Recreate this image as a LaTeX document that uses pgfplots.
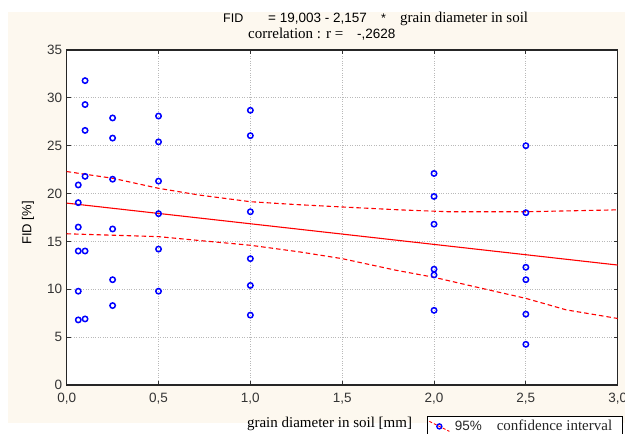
\documentclass[border=0pt]{standalone}
\usepackage{fontspec}
\setmainfont{Liberation Sans}
\newfontfamily\serif{Liberation Serif}
\usepackage{pgfplots}
\pgfplotsset{compat=1.18}
\definecolor{cream}{RGB}{253,248,239}
\definecolor{gridgray}{RGB}{185,185,185}

\begin{document}
\begin{tikzpicture}
% page and panel background
\fill[white] (0pt,0pt) rectangle (625pt,434pt);
\fill[cream] (8pt,11pt) rectangle (625pt,422pt);
\begin{axis}[
    at={(66.7pt,49pt)}, anchor=south west,
    scale only axis, width=551pt, height=335pt,
    xmin=0, xmax=3, ymin=0, ymax=35,
    xtick={0,0.5,...,3}, ytick={0,5,...,35},
    axis background/.style={fill=white},
    axis line style={line width=1.1pt, black!85},
    tick align=inside, major tick length=4pt,
    tick style={black!80, line width=0.9pt},
    grid=major,
    grid style={gridgray, dotted, line width=0.9pt},
    /pgf/number format/assume math mode=true,
    tick label style={font=\fontsize{13.5}{15}\selectfont, text=black!80},
    xticklabel style={yshift=-5pt, /pgf/number format/.cd, fixed, fixed zerofill, precision=1, use comma},
    yticklabel style={xshift=-1pt},
    xlabel={grain diameter in soil [mm]},
    xlabel style={font=\serif\fontsize{15}{17}\selectfont, at={(axis description cs:0.477,-0.1254)}, anchor=base, inner sep=0pt},
    ylabel={FID [\%]},
    ylabel style={font=\fontsize{13}{15}\selectfont, at={(axis description cs:-0.0702,0.4836)}, anchor=center, inner sep=0pt},
    legend style={at={(axis description cs:0.653,-0.0925)}, anchor=north west,
        draw=black, line width=0.8pt, fill=white, inner sep=2pt,
        font=\fontsize{13.5}{15}\selectfont, text=black!85},
    legend cell align=left,
]
% observations: FID [%] against grain diameter [mm]
\addplot[only marks, mark=o, mark size=2.7pt, blue, mark options={line width=1.5pt}, forget plot] coordinates {
  (0.063,20.9) (0.063,19.05) (0.063,16.5) (0.063,14.0) (0.063,9.8) (0.063,6.8)
  (0.1,31.8) (0.1,29.3) (0.1,26.6) (0.1,21.8) (0.1,14.0) (0.1,6.9)
  (0.25,27.9) (0.25,25.8) (0.25,21.5) (0.25,16.3) (0.25,11.0) (0.25,8.3)
  (0.5,28.1) (0.5,25.4) (0.5,21.3) (0.5,17.9) (0.5,14.2) (0.5,9.8)
  (1.0,28.7) (1.0,26.05) (1.0,18.1) (1.0,13.2) (1.0,10.4) (1.0,7.3)
  (2.0,22.1) (2.0,19.7) (2.0,16.8) (2.0,12.1) (2.0,11.5) (2.0,7.8)
  (2.5,25.0) (2.5,18.0) (2.5,12.3) (2.5,11.0) (2.5,7.4) (2.5,4.25)
};
% fitted line
\addplot[red, line width=1.1pt, forget plot] coordinates {(0,19.003) (3,12.532)};
% 95% confidence band
\addplot[red, dash pattern=on 4.5pt off 3pt, line width=1.1pt, forget plot] coordinates {
  (0,22.3) (0.25,21.6) (0.5,20.55) (0.72,19.85) (1.0,19.15) (1.25,18.85)
  (1.5,18.6) (1.81,18.3) (2.08,18.1) (2.5,18.1) (3.0,18.3)
};
\addplot[red, dash pattern=on 4.5pt off 3pt, line width=1.1pt, forget plot] coordinates {
  (0,15.8) (0.5,15.5) (0.72,15.1) (1.0,14.6) (1.27,13.9) (1.5,13.2)
  (1.79,12.0) (2.0,11.25) (2.26,10.1) (2.5,9.05) (2.72,7.85) (3.0,6.95)
};
\addlegendimage{legend image code/.code={
  \draw[red, dash pattern=on 3pt off 2pt, line width=0.9pt] (2pt,5pt) -- (22pt,-5pt);
  \draw[blue, line width=1.4pt] (12pt,0pt) circle (2.5pt);}}
\addlegendentry{\kern3pt 95\%\kern15pt{\serif\fontsize{15}{17}\selectfont confidence interval}\kern6pt}
\end{axis}
% titles
\node[anchor=base west, inner sep=0pt, font=\fontsize{12.5}{14}\selectfont] at (223pt,411.3pt) {FID};
\node[anchor=base west, inner sep=0pt, font=\fontsize{13.5}{14}\selectfont] at (268pt,411.3pt) {= 19,003 - 2,157};
\node[anchor=base west, inner sep=0pt, font=\fontsize{12.5}{14}\selectfont] at (381pt,411.3pt) {*};
\node[anchor=base west, inner sep=0pt, font=\serif\fontsize{15}{17}\selectfont] at (400pt,411.3pt) {grain diameter in soil};
\node[anchor=base west, inner sep=0pt, font=\serif\fontsize{15}{17}\selectfont] at (248pt,395.7pt) {correlation : r =};
\node[anchor=base west, inner sep=0pt, font=\fontsize{13.5}{14}\selectfont] at (357pt,395.7pt) {-,2628};
\pgfresetboundingbox
\path[use as bounding box] (0pt,0pt) rectangle (625pt,434pt);
\end{tikzpicture}
\end{document}
